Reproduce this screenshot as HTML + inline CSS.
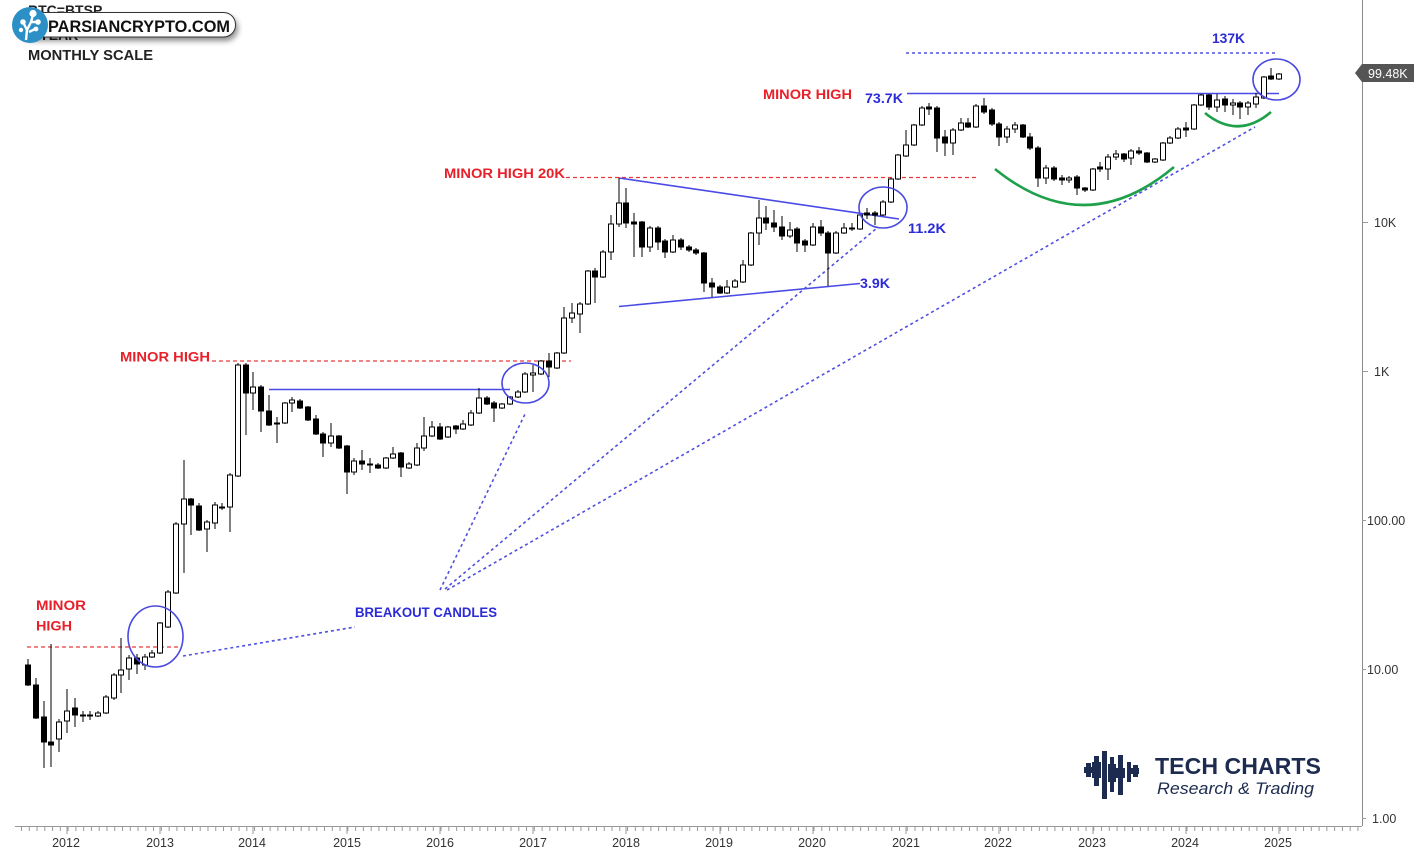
<!DOCTYPE html>
<html><head><meta charset="utf-8"><style>
html,body{margin:0;padding:0;background:#fff;}
svg{display:block;}
.f{fill:#000;stroke:#000;stroke-width:1}
.h{fill:#fff;stroke:#000;stroke-width:1}
.red{fill:#e8202a;font-family:"Liberation Sans",Arial,sans-serif;font-weight:bold;font-size:13.5px;}
.blu{fill:#2b2bd8;font-family:"Liberation Sans",Arial,sans-serif;font-weight:bold;font-size:13.5px;}
.ax{fill:#333;font-family:"Liberation Sans",Arial,sans-serif;font-size:12.5px;}
</style></head><body>
<svg width="1427" height="848" viewBox="0 0 1427 848" xmlns="http://www.w3.org/2000/svg">
<defs><filter id="sh" x="-10%" y="-30%" width="120%" height="190%"><feGaussianBlur stdDeviation="3"/></filter></defs>
<rect width="1427" height="848" fill="#fff"/>

<!-- axes -->
<line x1="1362.5" y1="0" x2="1362.5" y2="826" stroke="#8a8a8a" stroke-width="1"/>
<line x1="15" y1="826.5" x2="1362" y2="826.5" stroke="#999" stroke-width="1"/>
<line x1="21" y1="829" x2="1362" y2="829" stroke="#999" stroke-width="4" stroke-dasharray="1 6.77"/>
<g stroke="#999" stroke-width="1">
<line x1="67" y1="826" x2="67" y2="834"/><line x1="160" y1="826" x2="160" y2="834"/><line x1="253" y1="826" x2="253" y2="834"/><line x1="347" y1="826" x2="347" y2="834"/><line x1="440" y1="826" x2="440" y2="834"/><line x1="533" y1="826" x2="533" y2="834"/><line x1="626" y1="826" x2="626" y2="834"/><line x1="720" y1="826" x2="720" y2="834"/><line x1="813" y1="826" x2="813" y2="834"/><line x1="906" y1="826" x2="906" y2="834"/><line x1="999" y1="826" x2="999" y2="834"/><line x1="1093" y1="826" x2="1093" y2="834"/><line x1="1186" y1="826" x2="1186" y2="834"/><line x1="1279" y1="826" x2="1279" y2="834"/>
</g>
<g class="ax" text-anchor="middle">
<text x="66" y="847">2012</text><text x="160" y="847">2013</text><text x="252" y="847">2014</text><text x="347" y="847">2015</text><text x="440" y="847">2016</text><text x="533" y="847">2017</text><text x="626" y="847">2018</text><text x="719" y="847">2019</text><text x="812" y="847">2020</text><text x="906" y="847">2021</text><text x="998" y="847">2022</text><text x="1092" y="847">2023</text><text x="1185" y="847">2024</text><text x="1278" y="847">2025</text>
</g>
<g stroke="#999" stroke-width="1">
<line x1="1362" y1="222.5" x2="1368" y2="222.5"/><line x1="1362" y1="371.5" x2="1368" y2="371.5"/><line x1="1362" y1="520.5" x2="1366" y2="520.5"/><line x1="1362" y1="669.5" x2="1366" y2="669.5"/><line x1="1362" y1="818.5" x2="1366" y2="818.5"/>
</g>
<g class="ax">
<text x="1374" y="227">10K</text><text x="1374" y="376">1K</text><text x="1367" y="525">100.00</text><text x="1367" y="674">10.00</text><text x="1372" y="823">1.00</text>
</g>
<polygon points="1355,73 1362,64 1414,64 1414,82 1362,82" fill="#555"/>
<text x="1368" y="78" fill="#fff" font-family="Liberation Sans,Arial,sans-serif" font-size="12.5">99.48K</text>

<!-- red dotted minor high lines -->
<g stroke="#e83a3a" stroke-width="1.3" stroke-dasharray="4 3" fill="none">
<line x1="27" y1="647" x2="182" y2="647"/>
<line x1="212" y1="361" x2="571" y2="361"/>
<line x1="566" y1="177.5" x2="976" y2="177.5"/>
</g>

<!-- blue solid lines -->
<g stroke="#4a4ae6" stroke-width="1.6" fill="none">
<line x1="269" y1="389.5" x2="510" y2="389.5"/>
<line x1="619" y1="178" x2="899" y2="219"/>
<line x1="619" y1="306.5" x2="860" y2="283.5"/>
<line x1="907" y1="93.5" x2="1279" y2="93.5"/>
</g>

<!-- blue dotted lines -->
<g stroke="#5050e0" stroke-width="1.6" stroke-dasharray="3 3" fill="none">
<line x1="906" y1="53" x2="1278" y2="53"/>
<line x1="183" y1="656" x2="355" y2="627"/>
<line x1="440" y1="590" x2="526" y2="412"/>
<line x1="445" y1="589" x2="877" y2="228"/>
<line x1="447" y1="590" x2="1255" y2="127"/>
</g>

<!-- candles -->
<path fill="none" stroke="#000" stroke-width="1" shape-rendering="crispEdges" d="M28 659V686M36 678V719M44 701V768M51 644V767M59 719V752M67 689V733M75 698V727M83 711V722M90 711V720M98 711V717M106 695V714M114 673V700M121 638V693M129 655V680M137 654V674M145 654V670M152 650V658M160 622V654M168 590V628M176 522V594M184 460V573M191 498V535M199 503V531M207 520V552M215 502V529M222 503V510M230 473V532M238 363V477M246 363V435M253 372V410M261 385V432M269 395V426M277 417V443M285 402V424M292 397V412M300 399V409M308 406V421M316 415V435M323 432V457M331 423V447M339 435V449M347 445V494M354 458V475M362 450V470M370 458V473M378 463V469M386 457V469M393 447V459M401 452V477M409 462V469M417 443V466M424 417V451M432 421V437M440 423V440M448 426V438M456 425V434M463 420V430M471 410V426M479 388V414M487 396V405M494 401V422M502 403V409M510 396V405M518 390V398M525 372V393M533 365V392M541 360V375M549 353V377M557 352V369M564 307V354M572 303V323M580 302V333M588 270V305M595 268V303M603 250V278M611 215V260M619 178V227M626 188V228M634 213V257M642 221V257M650 226V252M658 226V250M665 239V258M673 235V253M681 238V250M689 245V252M696 248V255M704 252V292M712 278V297M720 285V294M727 280V294M735 279V288M743 260V283M751 232V266M759 200V245M766 206V230M774 210V232M782 216V240M790 222V238M797 227V252M805 239V252M813 223V246M821 220V236M828 231V286M836 231V254M844 223V234M852 223V231M860 214V230M867 208V219M875 211V225M883 200V216M891 178V203M898 154V180M906 130V157M914 124V146M922 106V126M929 103V115M937 106V152M945 130V156M953 128V155M961 118V131M968 118V128M976 104V128M984 98V114M992 108V126M999 122V146M1007 126V143M1015 122V133M1023 124V138M1030 133V150M1038 146V187M1046 165V184M1054 166V181M1062 175V185M1069 176V183M1077 175V195M1085 187V192M1093 168V191M1100 162V172M1108 154V180M1116 150V160M1124 153V162M1131 149V165M1139 147V155M1147 152V163M1155 158V163M1163 142V161M1170 136V144M1178 127V139M1186 122V137M1194 104V130M1201 94V106M1209 94V110M1217 94V112M1225 96V112M1233 99V115M1240 101V119M1248 101V115M1256 93V108M1264 76V99M1271 68V80M1279 73V80"/>
<g>
<rect x="25.5" y="665" width="5" height="20" class="f"/>
<rect x="33.5" y="685" width="5" height="33" class="f"/>
<rect x="41.5" y="717" width="5" height="25" class="f"/>
<rect x="48.5" y="742" width="5" height="3" class="f"/>
<rect x="56.5" y="722" width="5" height="17" class="h"/>
<rect x="64.5" y="711" width="5" height="10" class="h"/>
<rect x="72.5" y="708" width="5" height="7" class="f"/>
<rect x="80.5" y="715" width="5" height="1" class="f"/>
<rect x="87.5" y="715" width="5" height="1" class="f"/>
<rect x="95.5" y="713" width="5" height="3" class="h"/>
<rect x="103.5" y="697" width="5" height="16" class="h"/>
<rect x="111.5" y="675" width="5" height="23" class="h"/>
<rect x="118.5" y="670" width="5" height="5" class="h"/>
<rect x="126.5" y="658" width="5" height="11" class="h"/>
<rect x="134.5" y="658" width="5" height="6" class="f"/>
<rect x="142.5" y="657" width="5" height="8" class="h"/>
<rect x="149.5" y="653" width="5" height="4" class="h"/>
<rect x="157.5" y="623" width="5" height="30" class="h"/>
<rect x="165.5" y="592" width="5" height="35" class="h"/>
<rect x="173.5" y="524" width="5" height="69" class="h"/>
<rect x="181.5" y="499" width="5" height="25" class="h"/>
<rect x="188.5" y="499" width="5" height="6" class="f"/>
<rect x="196.5" y="506" width="5" height="24" class="f"/>
<rect x="204.5" y="522" width="5" height="7" class="h"/>
<rect x="212.5" y="505" width="5" height="18" class="h"/>
<rect x="219.5" y="507" width="5" height="1" class="f"/>
<rect x="227.5" y="475" width="5" height="32" class="h"/>
<rect x="235.5" y="365" width="5" height="111" class="h"/>
<rect x="243.5" y="365" width="5" height="28" class="f"/>
<rect x="250.5" y="387" width="5" height="6" class="h"/>
<rect x="258.5" y="387" width="5" height="24" class="f"/>
<rect x="266.5" y="411" width="5" height="14" class="f"/>
<rect x="274.5" y="423" width="5" height="1" class="f"/>
<rect x="282.5" y="403" width="5" height="20" class="h"/>
<rect x="289.5" y="400" width="5" height="3" class="h"/>
<rect x="297.5" y="401" width="5" height="7" class="f"/>
<rect x="305.5" y="407" width="5" height="13" class="f"/>
<rect x="313.5" y="419" width="5" height="15" class="f"/>
<rect x="320.5" y="434" width="5" height="9" class="f"/>
<rect x="328.5" y="436" width="5" height="7" class="h"/>
<rect x="336.5" y="436" width="5" height="12" class="f"/>
<rect x="344.5" y="446" width="5" height="26" class="f"/>
<rect x="351.5" y="461" width="5" height="11" class="h"/>
<rect x="359.5" y="461" width="5" height="3" class="f"/>
<rect x="367.5" y="464" width="5" height="1" class="f"/>
<rect x="375.5" y="465" width="5" height="3" class="f"/>
<rect x="383.5" y="458" width="5" height="10" class="h"/>
<rect x="390.5" y="454" width="5" height="4" class="h"/>
<rect x="398.5" y="453" width="5" height="14" class="f"/>
<rect x="406.5" y="464" width="5" height="4" class="h"/>
<rect x="414.5" y="448" width="5" height="17" class="h"/>
<rect x="421.5" y="436" width="5" height="12" class="h"/>
<rect x="429.5" y="427" width="5" height="9" class="h"/>
<rect x="437.5" y="427" width="5" height="12" class="f"/>
<rect x="445.5" y="427" width="5" height="10" class="h"/>
<rect x="453.5" y="426" width="5" height="3" class="f"/>
<rect x="460.5" y="424" width="5" height="5" class="h"/>
<rect x="468.5" y="413" width="5" height="12" class="h"/>
<rect x="476.5" y="398" width="5" height="15" class="h"/>
<rect x="484.5" y="398" width="5" height="6" class="f"/>
<rect x="491.5" y="403" width="5" height="5" class="f"/>
<rect x="499.5" y="404" width="5" height="4" class="h"/>
<rect x="507.5" y="397" width="5" height="7" class="h"/>
<rect x="515.5" y="392" width="5" height="5" class="h"/>
<rect x="522.5" y="374" width="5" height="18" class="h"/>
<rect x="530.5" y="373" width="5" height="2" class="h"/>
<rect x="538.5" y="361" width="5" height="13" class="h"/>
<rect x="546.5" y="361" width="5" height="6" class="f"/>
<rect x="554.5" y="353" width="5" height="15" class="h"/>
<rect x="561.5" y="318" width="5" height="35" class="h"/>
<rect x="569.5" y="313" width="5" height="5" class="h"/>
<rect x="577.5" y="304" width="5" height="10" class="h"/>
<rect x="585.5" y="271" width="5" height="33" class="h"/>
<rect x="592.5" y="271" width="5" height="6" class="f"/>
<rect x="600.5" y="252" width="5" height="25" class="h"/>
<rect x="608.5" y="224" width="5" height="28" class="h"/>
<rect x="616.5" y="203" width="5" height="21" class="h"/>
<rect x="623.5" y="203" width="5" height="20" class="f"/>
<rect x="631.5" y="222" width="5" height="2" class="f"/>
<rect x="639.5" y="222" width="5" height="25" class="f"/>
<rect x="647.5" y="228" width="5" height="19" class="h"/>
<rect x="655.5" y="228" width="5" height="14" class="f"/>
<rect x="662.5" y="241" width="5" height="11" class="f"/>
<rect x="670.5" y="240" width="5" height="12" class="h"/>
<rect x="678.5" y="240" width="5" height="7" class="f"/>
<rect x="686.5" y="247" width="5" height="3" class="f"/>
<rect x="693.5" y="250" width="5" height="3" class="f"/>
<rect x="701.5" y="253" width="5" height="30" class="f"/>
<rect x="709.5" y="283" width="5" height="4" class="f"/>
<rect x="717.5" y="287" width="5" height="6" class="f"/>
<rect x="724.5" y="287" width="5" height="6" class="h"/>
<rect x="732.5" y="281" width="5" height="6" class="h"/>
<rect x="740.5" y="265" width="5" height="17" class="h"/>
<rect x="748.5" y="233" width="5" height="32" class="h"/>
<rect x="756.5" y="218" width="5" height="15" class="h"/>
<rect x="763.5" y="218" width="5" height="5" class="f"/>
<rect x="771.5" y="223" width="5" height="4" class="f"/>
<rect x="779.5" y="227" width="5" height="9" class="f"/>
<rect x="787.5" y="230" width="5" height="6" class="h"/>
<rect x="794.5" y="229" width="5" height="14" class="f"/>
<rect x="802.5" y="241" width="5" height="4" class="f"/>
<rect x="810.5" y="227" width="5" height="18" class="h"/>
<rect x="818.5" y="227" width="5" height="6" class="f"/>
<rect x="825.5" y="233" width="5" height="20" class="f"/>
<rect x="833.5" y="233" width="5" height="20" class="h"/>
<rect x="841.5" y="228" width="5" height="5" class="h"/>
<rect x="849.5" y="228" width="5" height="1" class="f"/>
<rect x="857.5" y="215" width="5" height="14" class="h"/>
<rect x="864.5" y="213" width="5" height="2" class="f"/>
<rect x="872.5" y="213" width="5" height="2" class="f"/>
<rect x="880.5" y="202" width="5" height="13" class="h"/>
<rect x="888.5" y="179" width="5" height="23" class="h"/>
<rect x="895.5" y="155" width="5" height="24" class="h"/>
<rect x="903.5" y="145" width="5" height="11" class="h"/>
<rect x="911.5" y="125" width="5" height="20" class="h"/>
<rect x="919.5" y="108" width="5" height="17" class="h"/>
<rect x="926.5" y="107" width="5" height="2" class="f"/>
<rect x="934.5" y="108" width="5" height="30" class="f"/>
<rect x="942.5" y="137" width="5" height="6" class="f"/>
<rect x="950.5" y="130" width="5" height="13" class="h"/>
<rect x="958.5" y="123" width="5" height="7" class="h"/>
<rect x="965.5" y="123" width="5" height="4" class="f"/>
<rect x="973.5" y="106" width="5" height="21" class="h"/>
<rect x="981.5" y="106" width="5" height="6" class="f"/>
<rect x="989.5" y="110" width="5" height="14" class="f"/>
<rect x="996.5" y="124" width="5" height="13" class="f"/>
<rect x="1004.5" y="129" width="5" height="8" class="h"/>
<rect x="1012.5" y="125" width="5" height="4" class="h"/>
<rect x="1020.5" y="125" width="5" height="12" class="f"/>
<rect x="1027.5" y="137" width="5" height="11" class="f"/>
<rect x="1035.5" y="148" width="5" height="30" class="f"/>
<rect x="1043.5" y="168" width="5" height="10" class="h"/>
<rect x="1051.5" y="168" width="5" height="11" class="f"/>
<rect x="1059.5" y="178" width="5" height="2" class="f"/>
<rect x="1066.5" y="178" width="5" height="2" class="h"/>
<rect x="1074.5" y="177" width="5" height="11" class="f"/>
<rect x="1082.5" y="188" width="5" height="2" class="f"/>
<rect x="1090.5" y="169" width="5" height="21" class="h"/>
<rect x="1097.5" y="167" width="5" height="2" class="f"/>
<rect x="1105.5" y="157" width="5" height="12" class="h"/>
<rect x="1113.5" y="154" width="5" height="3" class="h"/>
<rect x="1121.5" y="154" width="5" height="5" class="f"/>
<rect x="1128.5" y="151" width="5" height="7" class="h"/>
<rect x="1136.5" y="151" width="5" height="2" class="f"/>
<rect x="1144.5" y="153" width="5" height="9" class="f"/>
<rect x="1152.5" y="159" width="5" height="3" class="h"/>
<rect x="1160.5" y="143" width="5" height="17" class="h"/>
<rect x="1167.5" y="138" width="5" height="5" class="h"/>
<rect x="1175.5" y="129" width="5" height="9" class="h"/>
<rect x="1183.5" y="128" width="5" height="2" class="f"/>
<rect x="1191.5" y="105" width="5" height="24" class="h"/>
<rect x="1198.5" y="95" width="5" height="10" class="h"/>
<rect x="1206.5" y="95" width="5" height="12" class="f"/>
<rect x="1214.5" y="100" width="5" height="7" class="h"/>
<rect x="1222.5" y="99" width="5" height="6" class="f"/>
<rect x="1230.5" y="103" width="5" height="2" class="h"/>
<rect x="1237.5" y="103" width="5" height="4" class="f"/>
<rect x="1245.5" y="103" width="5" height="4" class="h"/>
<rect x="1253.5" y="97" width="5" height="7" class="h"/>
<rect x="1261.5" y="77" width="5" height="21" class="h"/>
<rect x="1268.5" y="76" width="5" height="3" class="f"/>
<rect x="1276.5" y="74" width="5" height="5" class="h"/>
</g>

<!-- circles -->
<g stroke="#4a4ae0" stroke-width="1.6" fill="none">
<ellipse cx="155.5" cy="636.5" rx="27.5" ry="30.5"/>
<ellipse cx="525.5" cy="383" rx="23.5" ry="20"/>
<ellipse cx="883" cy="207.5" rx="24" ry="20.5"/>
<ellipse cx="1276.5" cy="79.5" rx="23.5" ry="20.5"/>
</g>

<!-- green arcs -->
<g stroke="#1fa04a" stroke-width="2.6" fill="none">
<path d="M995 169 Q1085 242 1174 167"/>
<path d="M1205 113 Q1238 140 1271 112"/>
</g>

<!-- labels -->
<text class="red" x="36" y="610" textLength="50" lengthAdjust="spacingAndGlyphs">MINOR</text>
<text class="red" x="36" y="630.5" textLength="36" lengthAdjust="spacingAndGlyphs">HIGH</text>
<text class="red" x="120" y="361.5" textLength="90" lengthAdjust="spacingAndGlyphs">MINOR HIGH</text>
<text class="red" x="444" y="178" textLength="121" lengthAdjust="spacingAndGlyphs">MINOR HIGH 20K</text>
<text class="red" x="763" y="99" textLength="89" lengthAdjust="spacingAndGlyphs">MINOR HIGH</text>
<text class="blu" x="1212" y="43" textLength="33" lengthAdjust="spacingAndGlyphs">137K</text>
<text class="blu" x="865" y="103" textLength="38" lengthAdjust="spacingAndGlyphs">73.7K</text>
<text class="blu" x="908" y="233" textLength="38" lengthAdjust="spacingAndGlyphs">11.2K</text>
<text class="blu" x="860" y="288" textLength="30" lengthAdjust="spacingAndGlyphs">3.9K</text>
<text class="blu" x="355" y="617" textLength="142" lengthAdjust="spacingAndGlyphs">BREAKOUT CANDLES</text>

<!-- top-left header -->
<text x="28" y="15" fill="#222" font-family="Liberation Sans,Arial,sans-serif" font-weight="bold" font-size="14">BTC=BTSP</text>
<text x="28" y="40" fill="#222" font-family="Liberation Sans,Arial,sans-serif" font-weight="bold" font-size="14">1 YEAR</text>
<text x="28" y="60" fill="#222" font-family="Liberation Sans,Arial,sans-serif" font-weight="bold" font-size="14.5" textLength="125" lengthAdjust="spacingAndGlyphs">MONTHLY SCALE</text>
<rect x="20" y="16" width="218" height="25" rx="12.5" fill="#000" opacity="0.45" filter="url(#sh)"/>
<rect x="20.5" y="12.5" width="215" height="24.5" rx="12" fill="#fff" stroke="#333" stroke-width="1"/>
<circle cx="30" cy="25" r="18" fill="#2c8fc6"/>
<g fill="#fff" stroke="#fff">
<path d="M26 40 L27 30 L24 24 M27 30 L31 22 L33 15 M31 22 L37 22 M29 32 L35 29" stroke-width="2.4" fill="none"/>
<circle cx="33" cy="13.5" r="3.6" stroke="none"/>
<circle cx="23" cy="22" r="2.8" stroke="none"/>
<circle cx="38" cy="22" r="2.8" stroke="none"/>
<circle cx="36" cy="29" r="2.4" stroke="none"/>
<circle cx="21" cy="30" r="2.2" stroke="none"/>
</g>
<text x="48" y="32" fill="#111" font-family="Liberation Sans,Arial,sans-serif" font-weight="bold" font-size="17" textLength="182" lengthAdjust="spacingAndGlyphs">PARSIANCRYPTO.COM</text>

<!-- Tech Charts logo -->
<g fill="#1c2b4f">
<rect x="1086" y="763" width="5" height="14"/>
<rect x="1084" y="767" width="9" height="6"/>
<rect x="1094" y="756" width="5" height="30"/>
<rect x="1092" y="762" width="9" height="16"/>
<rect x="1102" y="751" width="5" height="48"/>
<rect x="1110" y="757" width="4" height="35"/>
<rect x="1108" y="764" width="8" height="18"/>
<rect x="1118" y="755" width="5" height="40"/>
<rect x="1116" y="768" width="9" height="10"/>
<rect x="1127" y="762" width="4" height="20"/>
<rect x="1133" y="765" width="5" height="12"/>
<rect x="1131" y="768" width="8" height="6"/>
</g>
<text x="1155" y="774" fill="#1c2b4f" font-family="Liberation Sans,Arial,sans-serif" font-weight="bold" font-size="23" textLength="166" lengthAdjust="spacingAndGlyphs">TECH CHARTS</text>
<text x="1157" y="794" fill="#1c2b4f" font-family="Liberation Sans,Arial,sans-serif" font-style="italic" font-size="17" textLength="157" lengthAdjust="spacingAndGlyphs">Research &amp; Trading</text>
</svg>
</body></html>
